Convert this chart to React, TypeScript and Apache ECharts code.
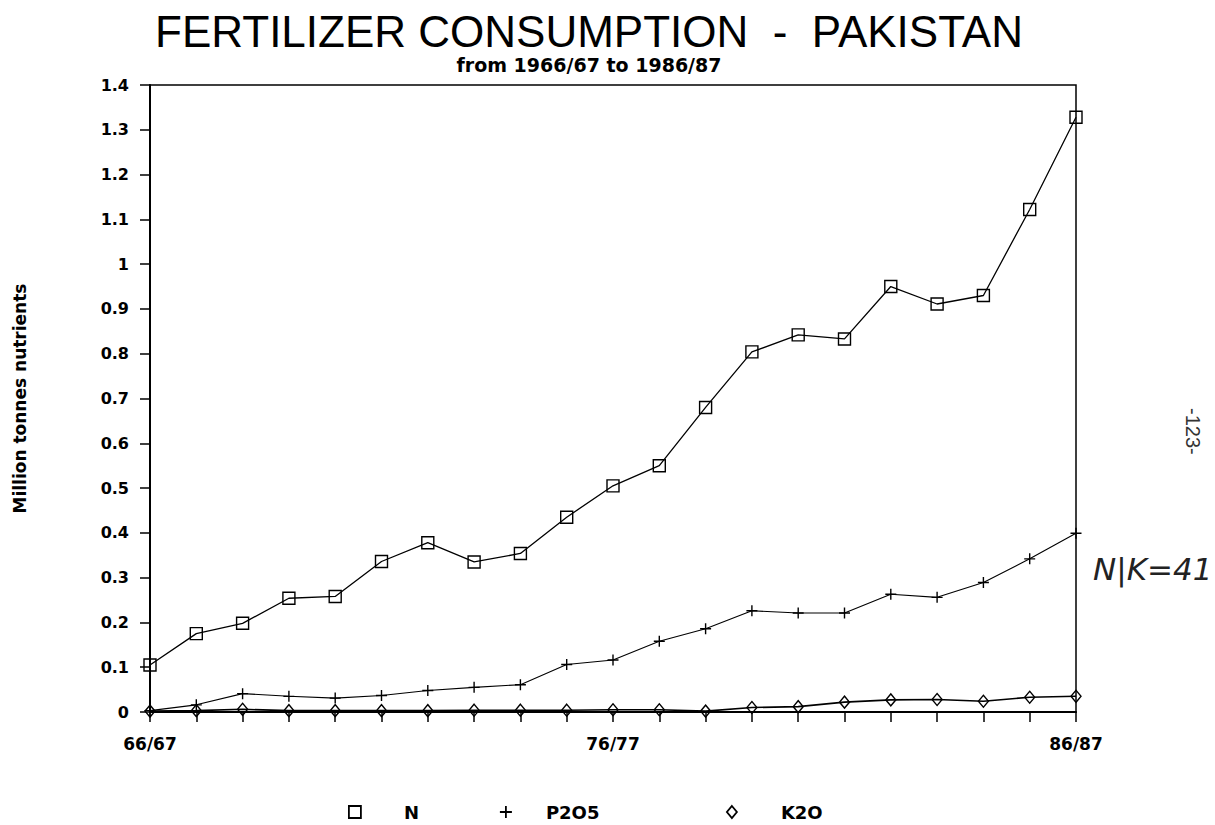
import React, { useEffect, useRef } from "react";
import * as echarts from "echarts";

const categories = [
  "66/67", "67/68", "68/69", "69/70", "70/71", "71/72", "72/73", "73/74", "74/75", "75/76",
  "76/77", "77/78", "78/79", "79/80", "80/81", "81/82", "82/83", "83/84", "84/85", "85/86", "86/87",
];
const shownLabels = ["66/67", "76/77", "86/87"];
const nValues = [
  0.105, 0.175, 0.198, 0.254, 0.258, 0.336, 0.378, 0.335, 0.354, 0.435,
  0.505, 0.55, 0.68, 0.804, 0.842, 0.833, 0.95, 0.911, 0.93, 1.122, 1.328,
];
const pValues = [
  0.003, 0.016, 0.041, 0.035, 0.031, 0.037, 0.048, 0.055, 0.061, 0.106,
  0.116, 0.158, 0.186, 0.226, 0.221, 0.221, 0.263, 0.256, 0.289, 0.342, 0.399,
];
const kValues = [
  0.002, 0.003, 0.006, 0.003, 0.003, 0.003, 0.003, 0.004, 0.004, 0.004,
  0.005, 0.005, 0.002, 0.01, 0.012, 0.022, 0.027, 0.028, 0.024, 0.033, 0.035,
];
const seriesNames = ["N", "P2O5", "K2O"];

const PLUS = "path://M5,0 L5,10 M0,5 L10,5";
const TITLE_FONT = "'Liberation Sans', Arial, sans-serif";
const BOLD_FONT = "'DejaVu Sans', Verdana, sans-serif";

export default function App() {
  const ref = useRef<HTMLDivElement>(null);
  useEffect(() => {
    if (!ref.current) return;
    const chart = echarts.init(ref.current, null, { renderer: "svg" });
    const hollow = { color: "transparent", borderColor: "#000", borderWidth: 1.4 };
    const legendBase = (name: string, icon: string, left: number, pad: number, w: number, h: number) => ({
      data: [{ name, icon, itemStyle: { ...hollow, borderWidth: 1.8 } }],
      left,
      top: 798,
      itemWidth: w,
      itemHeight: h,
      selectedMode: false,
      textStyle: { fontFamily: BOLD_FONT, fontWeight: "bold", fontSize: 18, color: "#000", padding: [0, 0, 0, pad] },
    });
    chart.setOption({
      animation: false,
      backgroundColor: "#fff",
      title: [
        {
          text: "FERTILIZER CONSUMPTION  -  PAKISTAN",
          left: 584,
          textAlign: "center",
          top: 4,
          textStyle: { fontFamily: TITLE_FONT, fontSize: 44, fontWeight: "normal", color: "#000" },
        },
        {
          text: "from 1966/67 to 1986/87",
          left: 584,
          textAlign: "center",
          top: 50,
          textStyle: { fontFamily: BOLD_FONT, fontSize: 19, fontWeight: "bold", color: "#000" },
        },
      ],
      legend: [
        legendBase("N", "rect", 343, 38, 12, 12),
        legendBase("P2O5", PLUS, 494, 29, 12, 12),
        legendBase("K2O", "diamond", 721, 39, 10, 12),
      ],
      grid: {
        left: 150,
        right: 139,
        top: 85,
        bottom: 113,
        show: true,
        borderColor: "#000",
        borderWidth: 1.5,
        backgroundColor: "transparent",
      },
      xAxis: {
        type: "category",
        data: categories,
        boundaryGap: false,
        axisLine: { lineStyle: { color: "#000", width: 2 } },
        axisTick: { interval: 0, length: 10, lineStyle: { color: "#000", width: 1.5 } },
        axisLabel: {
          interval: 0,
          formatter: (v: string) => (shownLabels.includes(v) ? v : ""),
          margin: 23,
          fontFamily: BOLD_FONT,
          fontWeight: "bold",
          fontSize: 17,
          color: "#000",
        },
        splitLine: { show: false },
      },
      yAxis: {
        type: "value",
        min: 0,
        max: 1.4,
        interval: 0.1,
        name: "Million tonnes nutrients",
        nameLocation: "middle",
        nameRotate: 90,
        nameGap: 122,
        nameTextStyle: { fontFamily: BOLD_FONT, fontWeight: "bold", fontSize: 17, color: "#000" },
        axisLine: { show: true, lineStyle: { color: "#000", width: 2 } },
        axisTick: { show: true, length: 10, lineStyle: { color: "#000", width: 1.5 } },
        axisLabel: {
          margin: 21,
          fontFamily: BOLD_FONT,
          fontWeight: "bold",
          fontSize: 16,
          color: "#000",
          formatter: (v: number) => String(Math.round(v * 10) / 10),
        },
        splitLine: { show: false },
      },
      series: [
        {
          name: seriesNames[0],
          type: "line",
          data: nValues,
          symbol: "rect",
          symbolSize: 12,
          lineStyle: { color: "#000", width: 1.3 },
          itemStyle: { ...hollow },
        },
        {
          name: seriesNames[1],
          type: "line",
          data: pValues,
          symbol: PLUS,
          symbolSize: 11,
          lineStyle: { color: "#000", width: 1.1 },
          itemStyle: { color: "transparent", borderColor: "#000", borderWidth: 1.4 },
        },
        {
          name: seriesNames[2],
          type: "line",
          data: kValues,
          symbol: "diamond",
          symbolSize: [10, 12],
          lineStyle: { color: "#000", width: 1.6 },
          itemStyle: { ...hollow },
        },
      ],
      graphic: [
        {
          type: "text",
          x: 1203,
          y: 408,
          rotation: -Math.PI / 2,
          style: { text: "-123-", fontFamily: TITLE_FONT, fontSize: 20, fill: "#333" },
        },
        {
          type: "text",
          x: 1093,
          y: 553,
          style: {
            text: "N|K=41",
            fontFamily: "'DejaVu Sans', sans-serif",
            fontSize: 31,
            fontStyle: "italic",
            fontWeight: "lighter",
            fill: "#222",
          },
        },
      ],
    });
    return () => chart.dispose();
  }, []);
  return <div ref={ref} style={{ position: "absolute", left: 0, top: 0, width: 1215, height: 825 }} />;
}
